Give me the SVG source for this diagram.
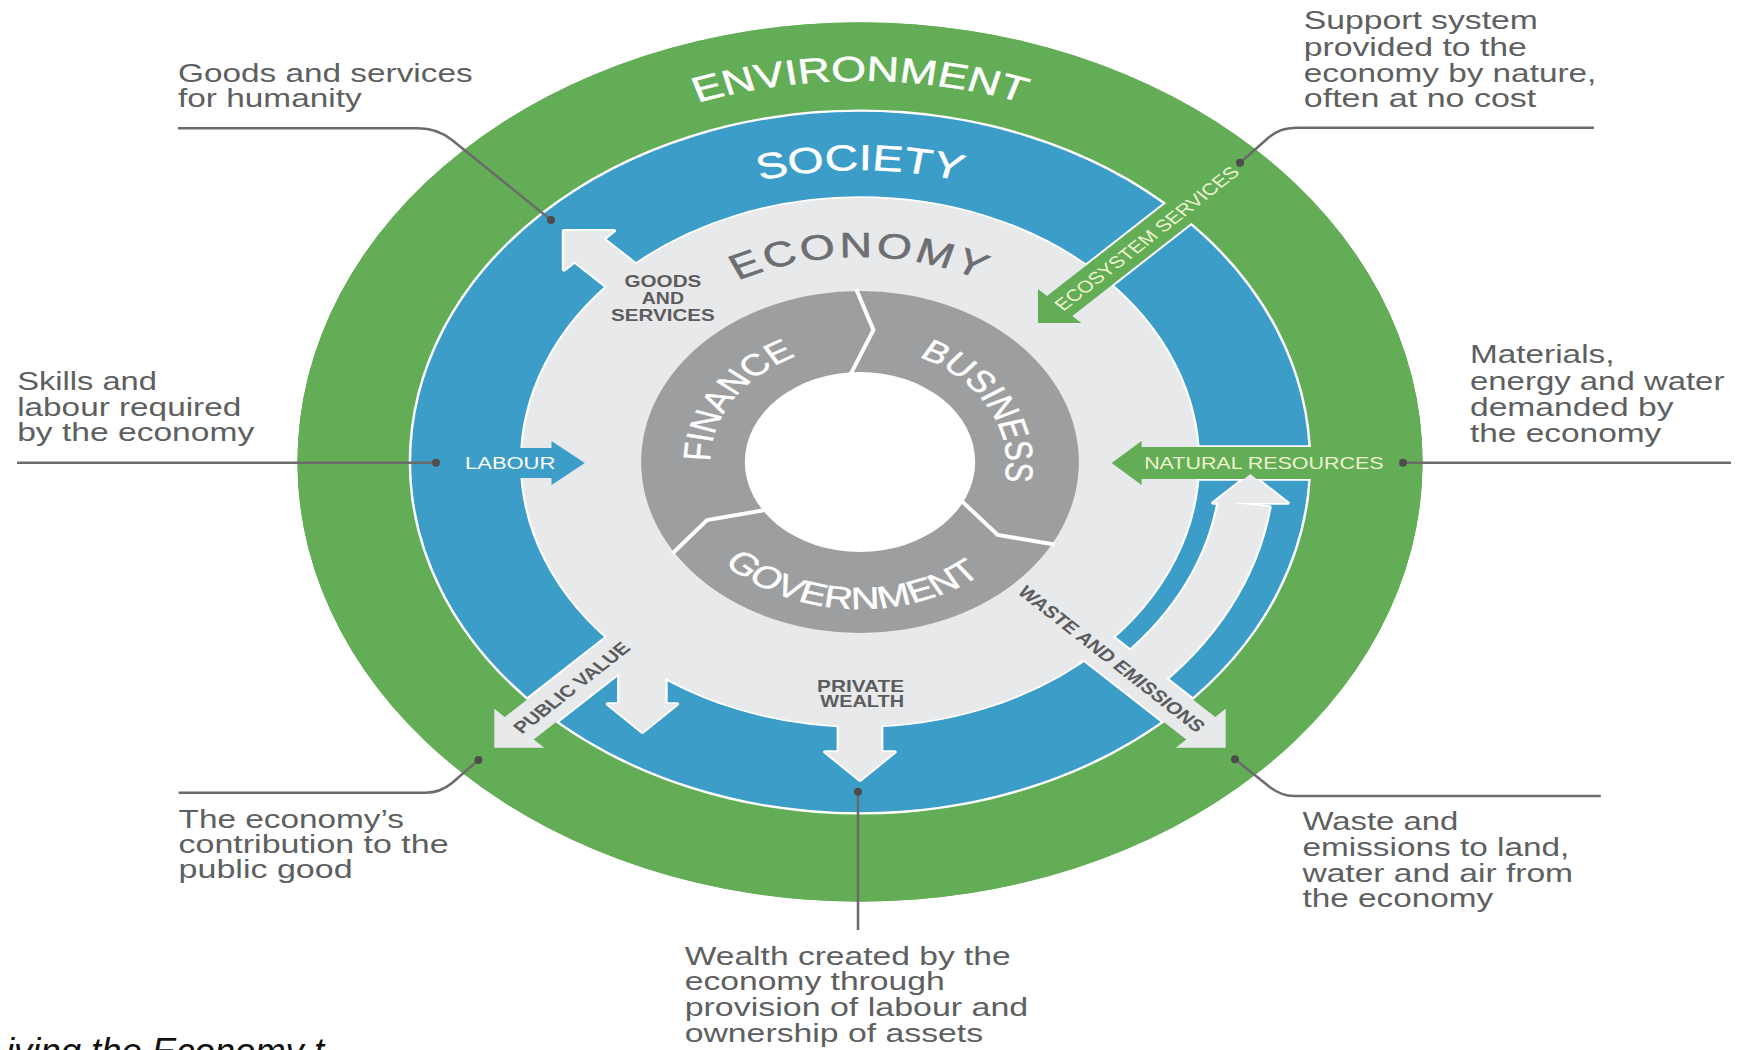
<svg xmlns="http://www.w3.org/2000/svg" width="1738" height="1050" viewBox="0 0 1738 1050">
<style>
text{font-family:"Liberation Sans",Arial,Helvetica,sans-serif}
.co{font-size:25px;fill:#5e5f61}
.ld{fill:none;stroke:#6b6b6b;stroke-width:2.5}
.dt{fill:#4d4d4f}
.ws{fill:none;stroke:#fff;stroke-width:3.5;stroke-linejoin:round;vector-effect:non-scaling-stroke}
.gr{fill:#62ad55}.bl{fill:#3c9dc8}.lg{fill:#e8e9eb}.dg{fill:#9d9ea0}
.wt{fill:#fff}.dk{fill:#5b5c5e;font-weight:bold}.pl{fill:#eef3d0}
.al{font-size:16.5px}
.dv{fill:none;stroke:#fff;stroke-width:4;vector-effect:non-scaling-stroke}
</style>
<defs>
<circle id="econDisk" r="264"/>
<polygon id="aGoods" points="-231.2,-231.2 -192.2,-231.2 -200.4,-223 -128,-150.6 -150.6,-128 -223,-200.4 -231.2,-192.2"/>
<polygon id="aEco" points="139,-139 139,-172.9 146.1,-165.9 296,-315.8 315.8,-296 165.9,-146.1 172.9,-139"/>
<polygon id="aNat" points="196.6,1 220,-21 220,-15 435,-15 435,17 220,17 220,23"/>
<polygon id="aLab" points="-215,1 -241,-21 -241,-14 -290,-14 -290,16 -241,16 -241,23"/>
<polygon id="aPub" points="-285.7,285.7 -285.7,246.7 -277.5,254.9 -166.9,144.3 -144.3,166.9 -254.9,277.5 -246.7,285.7"/>
<polygon id="aWaste" points="285.7,285.7 285.7,246.7 277.5,254.9 166.9,144.3 144.3,166.9 254.9,277.5 246.7,285.7"/>
<polygon id="aPriv" points="0,318 -27,290 -16.5,290 -16.5,230 16.5,230 16.5,290 27,290"/>
<polygon id="aSmall" points="-170,270 -197,242 -188,242 -188,180 -152,180 -152,242 -143,242"/>
<path id="aRec" d="M196.6,203.6 A283,283 0 0 0 280.25,39.39 L319.86,44.95 A323,323 0 0 1 224.4,232.3 Z"/>
<polygon id="aRecH" points="276,41 305,12 334,41"/>
<path id="pEnv" d="M-381,0 A381,381 0 0 1 381,0"/>
<path id="pSoc" d="M-292,0 A292,292 0 0 1 292,0"/>
<path id="pEco" d="M-205,0 A205,205 0 0 1 205,0"/>
<path id="pFin" d="M-62.9,98.7 A117,117 0 0 1 62.9,-98.7"/>
<path id="pBus" d="M-55.6,-102.9 A117,117 0 0 1 55.6,102.9"/>
<path id="pGov" d="M-146.8,-7.7 A147,147 0 0 0 146.8,7.7"/>
</defs>
<rect width="1738" height="1050" fill="#fff"/>
<g id="diagram" transform="translate(860,462) scale(1.28,1)">
  <g id="environment">
    <circle r="439.5" class="gr"/>
  </g>
  <g id="society">
    <circle r="352" class="bl"/>
    <circle r="352" class="ws"/>
  </g>
  <g id="flow-outlines" class="ws">
    <use href="#econDisk"/>
    <use href="#aGoods"/><use href="#aSmall"/><use href="#aPriv"/>
    <use href="#aPub"/><use href="#aWaste"/><use href="#aRec"/><use href="#aRecH"/>
    <use href="#aEco"/><use href="#aNat"/>
  </g>
  <path id="environment-band" class="gr" fill-rule="evenodd" d="M-439.5,0 A439.5,439.5 0 1 0 439.5,0 A439.5,439.5 0 1 0 -439.5,0 Z M-352.6,0 A352.6,352.6 0 1 0 352.6,0 A352.6,352.6 0 1 0 -352.6,0 Z"/>
  <g id="economy">
    <use href="#econDisk" class="lg"/>
  </g>
  <g id="ecosystem-services-arrow"><use href="#aEco" class="gr"/></g>
  <g id="natural-resources-arrow"><use href="#aNat" class="gr"/></g>
  <g id="goods-arrow"><use href="#aGoods" class="lg"/></g>
  <g id="public-value-arrows"><use href="#aSmall" class="lg"/><use href="#aPub" class="lg"/></g>
  <g id="private-wealth-arrow"><use href="#aPriv" class="lg"/></g>
  <g id="waste-arrow"><use href="#aWaste" class="lg"/><use href="#aRec" class="lg"/><use href="#aRecH" class="lg"/></g>
  <g id="labour-arrow"><use href="#aLab" class="bl"/></g>
  <g id="core">
    <circle r="171" class="dg"/>
    <circle r="90" fill="#fff"/>
    <polyline class="dv" points="-7.4,-87.7 10.5,-132 -3,-173"/>
    <polyline class="dv" points="79.1,38.6 107.6,73 152,82.5"/>
    <polyline class="dv" points="-73.8,47.9 -119.5,58 -146.7,91.7"/>
  </g>
  <g id="ring-labels">
    <text class="wt" font-size="35" text-anchor="middle" stroke="#fff" stroke-width="0.5"><textPath href="#pEnv" startOffset="50%">ENVIRONMENT</textPath></text>
    <text class="wt" font-size="36" text-anchor="middle" stroke="#fff" stroke-width="0.5"><textPath href="#pSoc" startOffset="50%">SOCIETY</textPath></text>
    <text fill="#6d6e71" stroke="#6d6e71" stroke-width="0.6" font-size="35" letter-spacing="2.5" text-anchor="middle"><textPath href="#pEco" startOffset="50%">ECONOMY</textPath></text>
    <text class="wt" font-size="30" text-anchor="middle" stroke="#fff" stroke-width="0.4"><textPath href="#pFin" startOffset="50%">FINANCE</textPath></text>
    <text class="wt" font-size="30" text-anchor="middle" stroke="#fff" stroke-width="0.4"><textPath href="#pBus" startOffset="50%">BUSINESS</textPath></text>
    <text class="wt" font-size="31" text-anchor="middle" stroke="#fff" stroke-width="0.4"><textPath href="#pGov" startOffset="50%">GOVERNMENT</textPath></text>
  </g>
  <g id="flow-labels" class="al">
    <text class="dk" x="-184" y="-175" textLength="60" lengthAdjust="spacingAndGlyphs">GOODS</text>
    <text class="dk" x="-170.5" y="-158" textLength="33" lengthAdjust="spacingAndGlyphs">AND</text>
    <text class="dk" x="-194.5" y="-141" textLength="81" lengthAdjust="spacingAndGlyphs">SERVICES</text>
    <text class="dk" x="-33.6" y="229.7" textLength="68" lengthAdjust="spacingAndGlyphs">PRIVATE</text>
    <text class="dk" x="-31" y="244.7" textLength="65.4" lengthAdjust="spacingAndGlyphs">WEALTH</text>
    <text class="wt" x="-308.6" y="6.5" textLength="70.6" lengthAdjust="spacingAndGlyphs">LABOUR</text>
    <text class="pl" x="222" y="7" textLength="187" lengthAdjust="spacingAndGlyphs">NATURAL RESOURCES</text>
    <text class="dk" transform="rotate(-45)" x="-379.5" y="6" textLength="121" lengthAdjust="spacingAndGlyphs">PUBLIC VALUE</text>
    <text class="dk" transform="rotate(45)" x="179" y="6" textLength="198.6" lengthAdjust="spacingAndGlyphs">WASTE AND EMISSIONS</text>
    <text class="pl" transform="rotate(-45)" x="218.5" y="6" textLength="196" lengthAdjust="spacingAndGlyphs">ECOSYSTEM SERVICES</text>
  </g>
</g>
<g id="connectors">
  <path class="ld" d="M178,128.3 L418,128.3 C432,128.3 442,132 452,140 L551,220"/>
  <path class="ld" d="M1594,127.7 L1298,127.7 C1284,127.7 1276,131 1267,139 L1240,162.7"/>
  <path class="ld" d="M17,462.7 H436"/>
  <path class="ld" d="M1403,462.7 H1731"/>
  <path class="ld" d="M178.6,792.7 L425,792.7 C437,792.7 445,789 452,783 L478.5,760"/>
  <path class="ld" d="M858,791.7 V930"/>
  <path class="ld" d="M1235,759.3 L1266,784 C1274,791 1282,796 1294,796 H1600.8"/>
  <circle class="dt" cx="551" cy="220" r="4"/>
  <circle class="dt" cx="1240" cy="162.7" r="4"/>
  <circle class="dt" cx="436" cy="462.7" r="4"/>
  <circle class="dt" cx="1403" cy="462.7" r="4"/>
  <circle class="dt" cx="478.5" cy="760" r="4"/>
  <circle class="dt" cx="858" cy="791.7" r="4"/>
  <circle class="dt" cx="1235" cy="759.3" r="4"/>
</g>
<g id="note-goods">
  <text class="co" x="178" y="81.7" textLength="294.6" lengthAdjust="spacingAndGlyphs">Goods and services</text>
  <text class="co" x="178" y="107.3" textLength="183.7" lengthAdjust="spacingAndGlyphs">for humanity</text>
</g>
<g id="note-support">
  <text class="co" x="1303.8" y="29.3" textLength="234" lengthAdjust="spacingAndGlyphs">Support system</text>
  <text class="co" x="1303.8" y="55.8" textLength="223" lengthAdjust="spacingAndGlyphs">provided to the</text>
  <text class="co" x="1303.8" y="81.7" textLength="292.5" lengthAdjust="spacingAndGlyphs">economy by nature,</text>
  <text class="co" x="1303.8" y="107.3" textLength="232.5" lengthAdjust="spacingAndGlyphs">often at no cost</text>
</g>
<g id="note-skills">
  <text class="co" x="17.2" y="390" textLength="139.7" lengthAdjust="spacingAndGlyphs">Skills and</text>
  <text class="co" x="17.2" y="415.7" textLength="224" lengthAdjust="spacingAndGlyphs">labour required</text>
  <text class="co" x="17.2" y="441.3" textLength="237" lengthAdjust="spacingAndGlyphs">by the economy</text>
</g>
<g id="note-materials">
  <text class="co" x="1470" y="363" textLength="144.5" lengthAdjust="spacingAndGlyphs">Materials,</text>
  <text class="co" x="1470" y="390" textLength="254.4" lengthAdjust="spacingAndGlyphs">energy and water</text>
  <text class="co" x="1470" y="416" textLength="203.5" lengthAdjust="spacingAndGlyphs">demanded by</text>
  <text class="co" x="1470" y="441.7" textLength="191.3" lengthAdjust="spacingAndGlyphs">the economy</text>
</g>
<g id="note-public">
  <text class="co" x="178.6" y="828.3" textLength="225.4" lengthAdjust="spacingAndGlyphs">The economy’s</text>
  <text class="co" x="178.6" y="853.3" textLength="270" lengthAdjust="spacingAndGlyphs">contribution to the</text>
  <text class="co" x="178.6" y="878.3" textLength="174" lengthAdjust="spacingAndGlyphs">public good</text>
</g>
<g id="note-wealth">
  <text class="co" x="684.7" y="965" textLength="326" lengthAdjust="spacingAndGlyphs">Wealth created by the</text>
  <text class="co" x="684.7" y="990.3" textLength="260" lengthAdjust="spacingAndGlyphs">economy through</text>
  <text class="co" x="684.7" y="1016" textLength="343.5" lengthAdjust="spacingAndGlyphs">provision of labour and</text>
  <text class="co" x="684.7" y="1041.7" textLength="298.4" lengthAdjust="spacingAndGlyphs">ownership of assets</text>
</g>
<g id="note-waste">
  <text class="co" x="1302.4" y="830" textLength="156" lengthAdjust="spacingAndGlyphs">Waste and</text>
  <text class="co" x="1302.4" y="855.7" textLength="267" lengthAdjust="spacingAndGlyphs">emissions to land,</text>
  <text class="co" x="1302.4" y="881.7" textLength="270.7" lengthAdjust="spacingAndGlyphs">water and air from</text>
  <text class="co" x="1302.4" y="906.7" textLength="190.8" lengthAdjust="spacingAndGlyphs">the economy</text>
</g>
<text id="caption" x="6" y="1064" font-size="36" font-style="italic" fill="#111" textLength="318" lengthAdjust="spacingAndGlyphs">iving the Economy t</text>
</svg>
